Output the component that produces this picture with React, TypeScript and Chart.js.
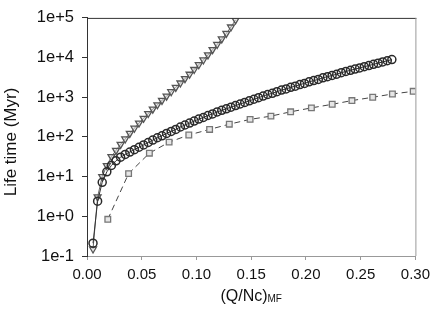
import React, { useEffect, useRef } from "react";
import { Chart, registerables } from "chart.js";

Chart.register(...registerables);

// Circle series (solid dark line)
const circleX = [
  0.0055, 0.0097, 0.0139, 0.0181, 0.0223, 0.0265, 0.0307, 0.0349, 0.0391, 0.0433,
  0.0475, 0.0517, 0.0559, 0.0601, 0.0643, 0.0685, 0.0727, 0.0769, 0.0811, 0.0853,
  0.0895, 0.0937, 0.0979, 0.1021, 0.1063, 0.1105, 0.1147, 0.1189, 0.1231, 0.1273,
  0.1315, 0.1357, 0.1399, 0.1441, 0.1483, 0.1525, 0.1567, 0.1609, 0.1651, 0.1693,
  0.1735, 0.1777, 0.1819, 0.1861, 0.1903, 0.1945, 0.1987, 0.2029, 0.2071, 0.2113,
  0.2155, 0.2197, 0.2239, 0.2281, 0.2323, 0.2365, 0.2407, 0.2449, 0.2491, 0.2533,
  0.2575, 0.2617, 0.2659, 0.2701, 0.2743, 0.2785,
];
const circleY = [
  0.21, 2.4, 7.2, 13.2, 19.1, 25.1, 30.9, 36.3, 41.7, 47.9,
  55.0, 63.1, 72.4, 83.2, 95.5, 107, 123, 138, 155, 178,
  200, 224, 251, 282, 309, 347, 380, 427, 468, 513,
  562, 617, 676, 741, 813, 891, 977, 1070, 1175, 1259,
  1380, 1514, 1622, 1778, 1905, 2089, 2239, 2455, 2630, 2818,
  3090, 3311, 3548, 3802, 4169, 4467, 4786, 5129, 5495, 5888,
  6310, 6761, 7244, 7762, 8318, 8913,
];

// Triangle series (solid gray line)
const triangleX = [
  0.0055, 0.0097, 0.0139, 0.0181, 0.0223, 0.0265, 0.0307, 0.0349, 0.0391, 0.0433,
  0.0475, 0.0517, 0.0559, 0.0601, 0.0643, 0.0685, 0.0727, 0.0769, 0.0811, 0.0853,
  0.0895, 0.0937, 0.0979, 0.1021, 0.1063, 0.1105, 0.1147, 0.1189, 0.1231, 0.1273,
  0.1315, 0.1357,
];
const triangleY = [
  0.15, 3.1, 10, 19, 32, 46, 65, 89, 123, 166,
  224, 295, 389, 501, 646, 832, 1070, 1380, 1780, 2290,
  2950, 3800, 5010, 6610, 8710, 11700, 15800, 21400, 29500, 40700,
  58900, 89100,
];

// Square series (dashed line)
const squareX = [
  0.019, 0.038, 0.057, 0.075, 0.093, 0.112, 0.13, 0.149, 0.168, 0.186,
  0.205, 0.224, 0.242, 0.261, 0.279, 0.298,
];
const squareY = [
  0.84, 11.9, 39, 74, 112, 155, 210, 277, 335, 430,
  540, 665, 825, 1000, 1210, 1410,
];

const xTickValues = [0, 0.05, 0.1, 0.15, 0.2, 0.25, 0.3];
const xTickLabels = ["0.00", "0.05", "0.10", "0.15", "0.20", "0.25", "0.30"];
const yTickValues = [0.1, 1, 10, 100, 1000, 10000, 100000];
const yTickLabels = ["1e-1", "1e+0", "1e+1", "1e+2", "1e+3", "1e+4", "1e+5"];

const xTitleMain = "(Q/Nc)";
const xTitleSub = "MF";
const yTitle = "Life time (Myr)";

const FONT = '"Liberation Sans", Arial, Helvetica, sans-serif';

const toPoints = (xs: number[], ys: number[]) => xs.map((x, i) => ({ x, y: ys[i] }));

export default function App() {
  const ref = useRef<HTMLCanvasElement | null>(null);

  useEffect(() => {
    document.body.style.margin = "0";
    const canvas = ref.current;
    if (!canvas) return;

    const framePlugin = {
      id: "frameAndTitles",
      afterDraw(chart: any) {
        const { ctx, chartArea } = chart;
        const { left, right, top, bottom } = chartArea;
        ctx.save();
        ctx.strokeStyle = "#333";
        ctx.lineWidth = 1;
        ctx.beginPath();
        ctx.moveTo(left, top + 0.5);
        ctx.lineTo(right + 1, top + 0.5);
        ctx.stroke();
        ctx.strokeStyle = "#999";
        ctx.beginPath();
        ctx.moveTo(right + 0.5, top);
        ctx.lineTo(right + 0.5, bottom);
        ctx.stroke();

        ctx.fillStyle = "#111";
        ctx.textBaseline = "alphabetic";
        ctx.textAlign = "left";
        ctx.font = `16px ${FONT}`;
        const w1 = ctx.measureText(xTitleMain).width;
        ctx.font = `10px ${FONT}`;
        const w2 = ctx.measureText(xTitleSub).width;
        const cx = (left + right) / 2;
        const sx = cx - (w1 + w2) / 2;
        ctx.font = `16px ${FONT}`;
        ctx.fillText(xTitleMain, sx, 301);
        ctx.font = `10px ${FONT}`;
        ctx.fillText(xTitleSub, sx + w1, 302);

        ctx.font = `17px ${FONT}`;
        ctx.textAlign = "center";
        ctx.textBaseline = "middle";
        ctx.translate(11, 142);
        ctx.rotate(-Math.PI / 2);
        ctx.fillText(yTitle, 0, 0);
        ctx.restore();
      },
    };

    const chart = new Chart(canvas, {
      type: "line",
      data: {
        datasets: [
          {
            label: "circles",
            data: toPoints(circleX, circleY),
            borderColor: "#333",
            borderWidth: 1,
            pointStyle: "circle",
            pointRadius: 4,
            pointBorderWidth: 1.5,
            pointBorderColor: "#2a2a2a",
            pointBackgroundColor: "rgba(255,255,255,0)",
            tension: 0,
          },
          {
            label: "triangles",
            data: toPoints(triangleX, triangleY),
            borderColor: "#666",
            borderWidth: 1,
            pointStyle: "triangle",
            pointRotation: 180,
            pointRadius: 4,
            pointBorderWidth: 1.3,
            pointBorderColor: "#555",
            pointBackgroundColor: "rgba(210,210,210,0.5)",
            tension: 0,
          },
          {
            label: "squares",
            data: toPoints(squareX, squareY),
            borderColor: "#444",
            borderWidth: 1,
            borderDash: [6, 4],
            pointStyle: "rect",
            pointRadius: 4,
            pointBorderWidth: 1.3,
            pointBorderColor: "#777",
            pointBackgroundColor: "#e6e6e6",
            tension: 0,
          },
        ],
      },
      options: {
        responsive: false,
        animation: false,
        devicePixelRatio: 1,
        layout: { padding: { left: 0, right: 19, top: 17, bottom: 0 } },
        plugins: {
          legend: { display: false },
          tooltip: { enabled: false },
        },
        scales: {
          x: {
            type: "linear",
            min: 0,
            max: 0.3,
            afterFit: (scale: any) => {
              scale.height = 67;
            },
            afterBuildTicks: (scale: any) => {
              scale.ticks = xTickValues.map((v) => ({ value: v }));
            },
            ticks: {
              color: "#111",
              font: { family: FONT, size: 15 },
              padding: 6,
              maxRotation: 0,
              autoSkip: false,
              callback: (v: any) => {
                const i = xTickValues.findIndex((t) => Math.abs(t - Number(v)) < 1e-9);
                return i >= 0 ? xTickLabels[i] : "";
              },
            },
            grid: {
              drawOnChartArea: false,
              drawTicks: true,
              tickLength: 4,
              color: "#999",
            },
            border: { display: true, color: "#999", width: 1 },
          },
          y: {
            type: "logarithmic",
            min: 0.1,
            max: 100000,
            afterFit: (scale: any) => {
              scale.width = 87;
            },
            afterBuildTicks: (scale: any) => {
              scale.ticks = yTickValues.map((v) => ({ value: v }));
            },
            ticks: {
              color: "#111",
              font: { family: FONT, size: 16.5 },
              padding: 8,
              autoSkip: false,
              callback: (v: any) => {
                const i = yTickValues.findIndex((t) => Math.abs(t - Number(v)) / t < 1e-6);
                return i >= 0 ? yTickLabels[i] : "";
              },
            },
            grid: {
              drawOnChartArea: false,
              drawTicks: true,
              tickLength: 5,
              color: "#333",
            },
            border: { display: true, color: "#333", width: 1 },
          },
        },
      },
      plugins: [framePlugin],
    });

    return () => chart.destroy();
  }, []);

  return (
    <div style={{ width: 436, height: 323, background: "#fff" }}>
      <canvas ref={ref} width={436} height={323} style={{ width: 436, height: 323, display: "block" }} />
    </div>
  );
}
